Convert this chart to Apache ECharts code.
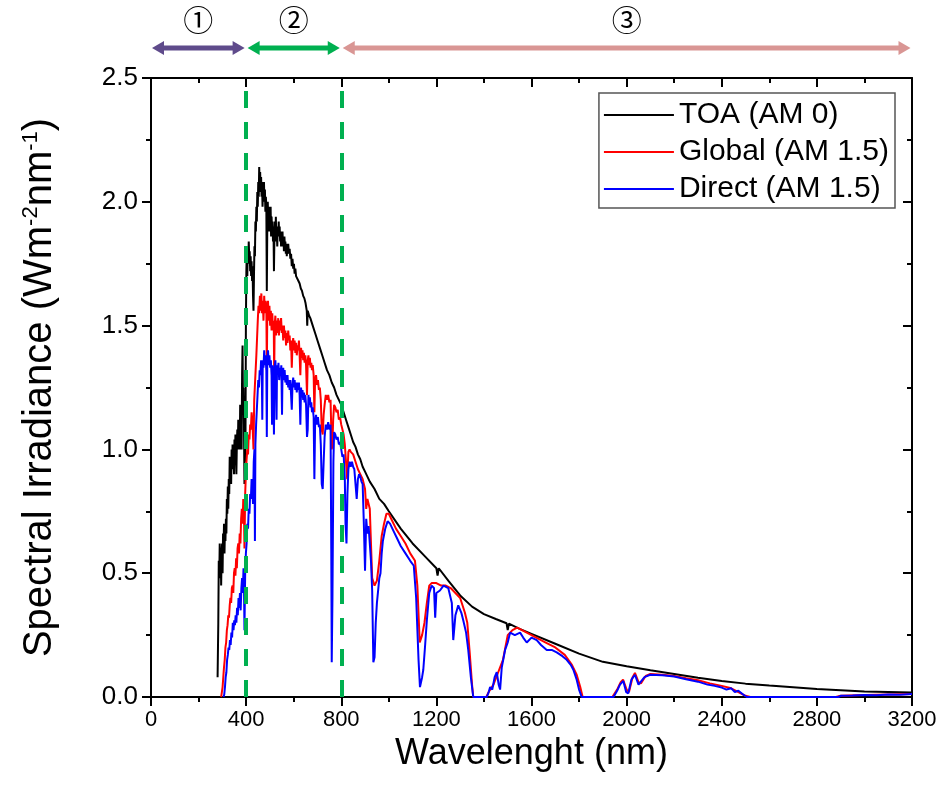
<!DOCTYPE html>
<html>
<head>
<meta charset="utf-8">
<script src="https://cdn.jsdelivr.net/npm/echarts@6/dist/echarts.min.js"></script>
<style>
html,body{margin:0;padding:0;background:#fff;}
#c{width:947px;height:803px;}
</style>
</head>
<body>
<div id="c"></div>
<script>
// ---- data (wavelength nm, spectral irradiance W m^-2 nm^-1) ----
const toaData = [
[280,0.08],[283,0.30],[285,0.55],[287,0.48],[289,0.62],[291,0.55],[293,0.60],[295,0.45],[297,0.58],[299,0.62],[301,0.50],[303,0.66],[305,0.60],[307,0.70],[309,0.58],[311,0.68],[313,0.63],[315,0.72],[317,0.66],[319,0.80],[321,0.74],[323,0.85],[325,0.76],[327,0.88],[329,0.82],[331,0.97],[333,0.88],[335,0.95],[337,0.86],[339,1.00],[341,0.92],[343,1.02],[345,0.94],[347,1.00],[349,0.90],[351,1.04],[353,0.96],[355,1.06],[357,0.98],[359,0.90],[361,1.02],[363,1.08],[365,1.00],[367,1.12],[369,1.04],[371,1.10],[373,1.00],[375,1.18],[377,1.08],[379,1.14],[381,1.00],[383,1.30],[385,1.42],[387,1.15],[389,1.25],[391,1.10],[393,0.86],[395,1.20],[397,0.95],[399,1.50],[401,1.72],[403,1.80],[405,1.70],[407,1.82],[409,1.75],[411,1.84],[413,1.78],[415,1.80],[417,1.72],[419,1.78],[421,1.70],[423,1.76],[425,1.68],[427,1.74],[429,1.62],[431,1.56],[433,1.70],[435,1.82],[437,1.78],[439,1.92],[441,1.88],[443,1.98],[445,1.92],[447,2.04],[449,1.98],[451,2.08],[453,2.02],[455,2.14],[457,2.06],[459,2.12],[461,2.04],[463,2.10],[465,2.02],[467,2.08],[469,1.98],[471,2.06],[473,2.00],[475,2.08],[477,2.00],[479,2.05],[481,1.96],[483,2.02],[485,1.98],[487,1.64],[489,1.90],[491,2.00],[493,1.92],[495,1.98],[497,1.88],[499,1.96],[501,1.90],[503,1.98],[505,1.86],[507,1.94],[509,1.88],[511,1.92],[513,1.84],[515,1.90],[517,1.72],[519,1.86],[521,1.92],[523,1.86],[525,1.94],[527,1.84],[529,1.88],[531,1.82],[533,1.90],[535,1.86],[537,1.92],[539,1.86],[541,1.90],[543,1.84],[545,1.88],[547,1.82],[549,1.88],[551,1.84],[553,1.88],[555,1.82],[557,1.86],[559,1.80],[561,1.86],[563,1.82],[565,1.84],[567,1.79],[569,1.83],[571,1.78],[573,1.82],[575,1.80],[577,1.83],[580,1.79],[583,1.81],[586,1.77],[589,1.79],[592,1.74],[595,1.77],[598,1.73],[601,1.75],[604,1.71],[607,1.73],[610,1.70],[615,1.70],[620,1.68],[625,1.67],[630,1.65],[635,1.64],[640,1.62],[645,1.61],[650,1.59],[655,1.56],[657,1.50],[659,1.56],[665,1.54],[670,1.53],[680,1.50],[690,1.47],[700,1.44],[710,1.41],[720,1.38],[730,1.35],[740,1.32],[750,1.30],[760,1.27],[770,1.25],[780,1.22],[790,1.20],[800,1.18],[810,1.15],[820,1.12],[830,1.09],[840,1.06],[850,1.03],[860,1.01],[870,0.98],[880,0.96],[890,0.93],[900,0.91],[920,0.87],[940,0.84],[960,0.80],[980,0.78],[1000,0.75],[1050,0.68],[1100,0.62],[1150,0.57],[1200,0.52],[1205,0.49],[1210,0.52],[1250,0.47],[1300,0.41],[1350,0.365],[1400,0.335],[1450,0.315],[1495,0.298],[1500,0.27],[1505,0.296],[1550,0.275],[1600,0.255],[1700,0.215],[1800,0.175],[1900,0.142],[2000,0.124],[2100,0.108],[2200,0.093],[2300,0.078],[2400,0.065],[2500,0.054],[2600,0.046],[2700,0.039],[2800,0.032],[2900,0.027],[3000,0.022],[3100,0.02],[3200,0.018]
];
const globalData = [
[295,0],[298,0.02],[301,0.04],[304,0.08],[307,0.12],[310,0.15],[313,0.20],[316,0.22],[319,0.27],[322,0.29],[325,0.33],[328,0.32],[331,0.37],[334,0.40],[337,0.38],[340,0.44],[343,0.45],[346,0.42],[349,0.50],[352,0.52],[355,0.49],[358,0.56],[361,0.52],[364,0.60],[367,0.62],[370,0.58],[373,0.66],[376,0.62],[379,0.72],[382,0.76],[385,0.70],[388,0.80],[391,0.74],[393,0.60],[396,0.82],[399,0.90],[402,0.96],[405,1.00],[408,0.98],[411,1.06],[414,1.04],[417,1.10],[420,1.08],[423,1.15],[426,1.12],[429,1.05],[431,1.00],[434,1.20],[437,1.26],[440,1.32],[443,1.38],[446,1.45],[449,1.52],[452,1.58],[455,1.55],[458,1.62],[461,1.56],[464,1.63],[467,1.55],[470,1.60],[473,1.52],[476,1.62],[479,1.55],[482,1.60],[485,1.58],[487,1.32],[489,1.55],[492,1.60],[495,1.52],[498,1.58],[501,1.50],[504,1.56],[507,1.48],[510,1.55],[513,1.48],[516,1.52],[518,1.30],[520,1.50],[523,1.54],[526,1.46],[529,1.52],[532,1.47],[535,1.53],[538,1.46],[541,1.52],[544,1.48],[547,1.53],[550,1.47],[553,1.50],[556,1.44],[559,1.50],[562,1.45],[565,1.48],[568,1.42],[571,1.47],[574,1.43],[577,1.48],[580,1.44],[583,1.46],[586,1.40],[589,1.44],[592,1.33],[595,1.42],[598,1.45],[601,1.40],[604,1.44],[607,1.39],[610,1.43],[613,1.38],[616,1.42],[619,1.40],[622,1.44],[625,1.38],[628,1.30],[631,1.41],[634,1.37],[637,1.40],[640,1.36],[643,1.39],[646,1.35],[649,1.38],[652,1.34],[656,1.22],[659,1.36],[662,1.38],[665,1.34],[668,1.37],[671,1.33],[674,1.35],[677,1.32],[680,1.34],[684,1.30],[687,1.15],[690,1.28],[694,1.30],[698,1.26],[702,1.28],[706,1.24],[710,1.25],[714,1.20],[718,1.08],[722,1.06],[726,1.14],[730,1.18],[735,1.22],[740,1.20],[745,1.22],[750,1.19],[755,1.20],[760,1.00],[763,1.02],[766,1.12],[770,1.18],[775,1.17],[780,1.15],[785,1.16],[790,1.12],[795,1.13],[800,1.10],[805,1.08],[810,1.06],[815,1.02],[820,0.95],[825,0.88],[830,0.99],[835,1.00],[840,0.99],[850,0.98],[860,0.95],[870,0.92],[880,0.90],[890,0.88],[900,0.84],[905,0.76],[910,0.80],[920,0.76],[925,0.62],[930,0.48],[940,0.45],[950,0.47],[960,0.55],[970,0.65],[980,0.70],[990,0.74],[1000,0.74],[1010,0.72],[1030,0.68],[1050,0.65],[1070,0.62],[1090,0.58],[1110,0.55],[1120,0.45],[1130,0.22],[1140,0.25],[1150,0.30],[1160,0.38],[1170,0.45],[1180,0.46],[1200,0.46],[1220,0.45],[1240,0.45],[1260,0.44],[1280,0.42],[1300,0.40],[1320,0.34],[1330,0.30],[1340,0.18],[1350,0.05],[1355,0],[1410,0],[1420,0.02],[1440,0.05],[1460,0.10],[1480,0.15],[1500,0.25],[1520,0.27],[1540,0.28],[1560,0.27],[1580,0.26],[1600,0.25],[1620,0.24],[1640,0.23],[1660,0.22],[1700,0.20],[1740,0.17],[1770,0.13],[1790,0.09],[1805,0.04],[1815,0],[1940,0],[1960,0.03],[1975,0.06],[1985,0.07],[2000,0.03],[2010,0.02],[2025,0.08],[2035,0.097],[2050,0.06],[2060,0.055],[2080,0.085],[2100,0.093],[2150,0.09],[2200,0.085],[2250,0.076],[2300,0.068],[2350,0.055],[2400,0.045],[2440,0.035],[2470,0.02],[2500,0.005],[2520,0],[2880,0],[2900,0.005],[3000,0.008],[3100,0.01],[3200,0.012]
];
const directData = [
[305,0],[308,0.01],[311,0.04],[314,0.08],[317,0.10],[320,0.15],[323,0.17],[326,0.20],[329,0.19],[332,0.23],[335,0.21],[338,0.26],[341,0.24],[344,0.30],[347,0.27],[350,0.31],[353,0.29],[356,0.33],[359,0.30],[362,0.36],[365,0.33],[368,0.40],[371,0.36],[374,0.42],[377,0.35],[380,0.44],[383,0.48],[386,0.42],[389,0.52],[391,0.45],[393,0.27],[396,0.50],[399,0.58],[402,0.62],[405,0.70],[408,0.68],[411,0.76],[414,0.74],[417,0.82],[420,0.80],[423,0.88],[426,0.85],[429,0.78],[432,0.95],[435,1.00],[437,0.63],[439,1.02],[442,1.10],[445,1.16],[448,1.22],[451,1.28],[454,1.25],[457,1.32],[460,1.30],[463,1.36],[466,1.30],[468,1.12],[470,1.36],[473,1.33],[476,1.40],[479,1.34],[482,1.38],[485,1.32],[487,1.05],[489,1.35],[492,1.40],[495,1.34],[498,1.38],[501,1.33],[504,1.36],[507,1.30],[509,1.10],[511,1.34],[514,1.30],[517,1.06],[520,1.33],[523,1.36],[526,1.30],[528,1.12],[530,1.34],[533,1.31],[536,1.35],[539,1.28],[542,1.33],[545,1.30],[548,1.34],[551,1.14],[553,1.31],[556,1.33],[559,1.28],[562,1.32],[565,1.27],[568,1.30],[571,1.26],[574,1.30],[577,1.25],[580,1.28],[583,1.24],[586,1.28],[589,1.22],[592,1.16],[595,1.26],[598,1.29],[601,1.25],[604,1.28],[607,1.24],[610,1.27],[613,1.23],[616,1.27],[619,1.24],[622,1.27],[625,1.22],[628,1.10],[631,1.25],[634,1.21],[637,1.24],[640,1.20],[643,1.23],[646,1.19],[649,1.22],[652,1.18],[656,1.05],[659,1.08],[662,1.22],[665,1.18],[668,1.21],[671,1.17],[674,1.19],[677,1.15],[680,1.17],[684,1.13],[687,0.88],[690,1.10],[694,1.14],[698,1.10],[702,1.13],[706,1.09],[710,1.10],[714,1.02],[718,0.86],[722,0.84],[726,0.95],[730,1.05],[735,1.10],[740,1.08],[745,1.11],[750,1.08],[755,1.10],[758,0.60],[760,0.14],[763,0.40],[767,0.95],[770,1.07],[775,1.06],[780,1.04],[785,1.05],[790,1.02],[795,1.03],[800,1.00],[805,0.97],[810,0.98],[815,0.88],[818,0.70],[822,0.62],[826,0.82],[830,0.92],[835,0.95],[840,0.93],[845,0.95],[850,0.93],[855,0.92],[860,0.86],[865,0.80],[870,0.88],[875,0.90],[880,0.89],[885,0.87],[890,0.86],[895,0.70],[900,0.51],[905,0.72],[910,0.66],[915,0.69],[920,0.62],[925,0.55],[930,0.43],[935,0.14],[940,0.16],[945,0.30],[950,0.38],[955,0.43],[960,0.48],[965,0.50],[970,0.58],[975,0.63],[985,0.68],[995,0.71],[1005,0.70],[1020,0.67],[1035,0.64],[1050,0.61],[1070,0.58],[1090,0.55],[1105,0.53],[1115,0.40],[1125,0.15],[1131,0.04],[1140,0.08],[1145,0.11],[1152,0.20],[1160,0.31],[1170,0.42],[1180,0.45],[1190,0.44],[1195,0.32],[1200,0.42],[1215,0.43],[1230,0.45],[1250,0.44],[1265,0.38],[1271,0.23],[1280,0.33],[1292,0.37],[1305,0.34],[1313,0.31],[1325,0.26],[1334,0.19],[1345,0.08],[1355,0],[1412,0],[1420,0.02],[1426,0.04],[1435,0.03],[1445,0.08],[1454,0.10],[1462,0.05],[1468,0.03],[1475,0.12],[1489,0.19],[1500,0.22],[1510,0.26],[1530,0.25],[1552,0.26],[1565,0.24],[1580,0.22],[1600,0.24],[1622,0.23],[1640,0.21],[1664,0.19],[1685,0.19],[1706,0.18],[1730,0.165],[1748,0.15],[1765,0.13],[1776,0.11],[1790,0.07],[1800,0.03],[1811,0],[1945,0],[1960,0.025],[1972,0.05],[1986,0.065],[1998,0.02],[2007,0.015],[2020,0.07],[2035,0.09],[2050,0.05],[2057,0.045],[2075,0.08],[2099,0.09],[2150,0.088],[2200,0.083],[2250,0.072],[2300,0.062],[2340,0.05],[2370,0.045],[2400,0.038],[2420,0.03],[2440,0.035],[2455,0.02],[2470,0.025],[2490,0.01],[2505,0],[2890,0],[2900,0.005],[2950,0.006],[3000,0.008],[3050,0.007],[3100,0.01],[3150,0.009],[3200,0.012]
];
const seriesNames = ['TOA (AM 0)', 'Global (AM 1.5)', 'Direct (AM 1.5)'];
const dividers = [400, 800];
const regionBounds = [[0, 400], [400, 800], [800, 3200]];
const regionLabels = ['①', '②', '③'];
const xTicks = {min: 0, max: 3200, step: 400};
const yTicks = {min: 0, max: 2.5, step: 0.5};

const FONT = '"Liberation Sans", Arial, sans-serif';
const chart = echarts.init(document.getElementById('c'), null, {renderer: 'canvas'});

const axisLineStyle = {color: '#000', width: 2};
function xAx(pos, inside, labels) {
  return {
    type: 'value', position: pos, min: xTicks.min, max: xTicks.max, interval: xTicks.step,
    axisLine: {show: true, onZero: false, lineStyle: axisLineStyle},
    axisTick: {show: true, inside: inside, length: 9, lineStyle: {color: '#000', width: 2}},
    minorTick: {show: true, splitNumber: 2, length: 5, lineStyle: {color: '#000', width: 2}},
    axisLabel: {show: labels, fontSize: 22, color: '#000', fontFamily: FONT, margin: 12,
      formatter: v => String(v)},
    splitLine: {show: false},
    name: labels ? 'Wavelenght (nm)' : '', nameLocation: 'middle', nameGap: 33,
    nameTextStyle: {fontSize: 36, color: '#000', fontFamily: FONT}
  };
}
function yAx(pos, inside, labels) {
  return {
    type: 'value', position: pos, min: yTicks.min, max: yTicks.max, interval: yTicks.step,
    axisLine: {show: true, onZero: false, lineStyle: axisLineStyle},
    axisTick: {show: true, inside: inside, length: 9, lineStyle: {color: '#000', width: 2}},
    minorTick: {show: true, splitNumber: 2, length: 5, lineStyle: {color: '#000', width: 2}},
    axisLabel: {show: labels, fontSize: 26, color: '#000', fontFamily: FONT, margin: 13,
      formatter: v => v.toFixed(1)},
    splitLine: {show: false},
    name: labels ? '{a|Spectral Irradiance (Wm}{s|-2}{a|nm}{s|-1}{a|)}' : '',
    nameLocation: 'middle', nameGap: 91, nameRotate: 90,
    nameTextStyle: {color: '#000', fontFamily: FONT,
      rich: {a: {fontSize: 40, color: '#000', fontFamily: FONT, verticalAlign: 'bottom'},
             s: {fontSize: 22, color: '#000', fontFamily: FONT, verticalAlign: 'top'}}}
  };
}

const option = {
  backgroundColor: '#fff',
  animation: false,
  grid: {left: 151, right: 35, top: 78, bottom: 106, containLabel: false},
  xAxis: [xAx('bottom', false, true), xAx('top', true, false)],
  yAxis: [yAx('left', false, true), yAx('right', true, false)],
  legend: {
    orient: 'vertical', right: 52, top: 93,
    data: seriesNames,
    backgroundColor: '#fff', borderColor: '#555', borderWidth: 1.5,
    padding: [7, 6, 4, 5], itemGap: 7, itemWidth: 70, itemHeight: 14,
    textStyle: {fontSize: 30, color: '#000', fontFamily: FONT, lineHeight: 30},
    icon: 'path://M0,6 L70,6 L70,8 L0,8 Z'
  },
  series: [
    {name: seriesNames[0], type: 'line', data: toaData, symbol: 'none', color: '#000',
     lineStyle: {color: '#000', width: 2}, z: 2},
    {name: seriesNames[1], type: 'line', data: globalData, symbol: 'none', color: '#ff0000',
     lineStyle: {color: '#ff0000', width: 2}, z: 3},
    {name: seriesNames[2], type: 'line', data: directData, symbol: 'none', color: '#0000ff',
     lineStyle: {color: '#0000ff', width: 2}, z: 4,
     markLine: {silent: true, symbol: 'none', label: {show: false},
       lineStyle: {color: '#00b050', width: 4, type: [17, 14]},
       data: dividers.map(d => ({xAxis: d}))}}
  ]
};
chart.setOption(option);

// region arrows above the plot
const arrowColors = ['#5f4b8b', '#00b050', '#d99694'];
const arrowY = 48, labelY = 20, head = 12, halfH = 7;
const g = [];
regionBounds.forEach((b, i) => {
  const x1 = chart.convertToPixel({xAxisIndex: 0}, b[0]) + (i === 0 ? 1 : 1.5);
  const x2 = chart.convertToPixel({xAxisIndex: 0}, b[1]) - 1.5;
  const c = arrowColors[i];
  g.push({type: 'line', shape: {x1: x1 + head - 1, y1: arrowY, x2: x2 - head + 1, y2: arrowY},
    style: {stroke: c, lineWidth: 5}});
  g.push({type: 'polygon', shape: {points: [[x1, arrowY], [x1 + head, arrowY - halfH], [x1 + head, arrowY + halfH]]},
    style: {fill: c}});
  g.push({type: 'polygon', shape: {points: [[x2, arrowY], [x2 - head, arrowY - halfH], [x2 - head, arrowY + halfH]]},
    style: {fill: c}});
  g.push({type: 'text', x: (x1 + x2) / 2, y: labelY,
    style: {text: regionLabels[i], fill: '#000', fontSize: 30,
      fontFamily: '"Noto Sans CJK SC", "DejaVu Sans", sans-serif', align: 'center', verticalAlign: 'middle'}});
});
chart.setOption({graphic: g});
</script>
</body>
</html>
